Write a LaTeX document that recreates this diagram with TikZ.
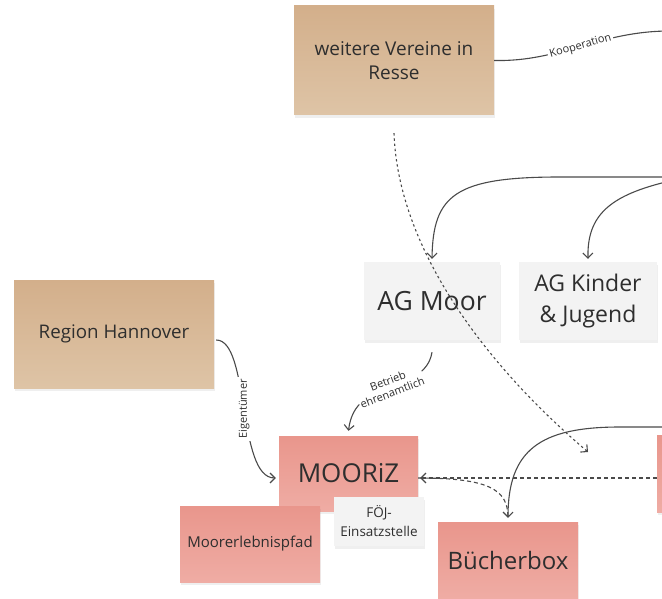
\documentclass[tikz,border=0pt]{standalone}
\usepackage{fontspec}
\setmainfont{Open Sans}
\usetikzlibrary{arrows.meta,shadows}
\definecolor{tantop}{HTML}{D3AF8B}
\definecolor{tanbot}{HTML}{DEC4A6}
\definecolor{pinktop}{HTML}{E9968C}
\definecolor{pinkbot}{HTML}{EFACA4}
\definecolor{greybox}{HTML}{F3F3F3}
\definecolor{linegrey}{HTML}{4A4A4A}
\definecolor{textgrey}{HTML}{2E2E2E}
\begin{document}
\begin{tikzpicture}[x=1pt,y=-1pt]
\tikzstyle{every node}+=[inner sep=0pt, text=textgrey, align=center]
\tikzstyle{boxshadow}=[drop shadow={opacity=0.12, shadow xshift=1pt, shadow yshift=-3pt}]
\tikzstyle{tanbox}=[rectangle, top color=tantop, bottom color=tanbot, boxshadow]
\tikzstyle{pinkbox}=[rectangle, top color=pinktop, bottom color=pinkbot, boxshadow]
\tikzstyle{greybox}=[rectangle, fill=greybox, boxshadow]
\tikzstyle{link}=[draw=linegrey, line width=1.1pt, -{Straight Barb[length=5pt,width=10pt]}]
\tikzstyle{plain}=[draw=linegrey, line width=1.1pt]
\tikzstyle{dotline}=[link, dash pattern=on 2.4pt off 2.8pt]
\tikzstyle{dashline}=[link, dash pattern=on 4pt off 3pt]
\tikzstyle{tag}=[fill=white, inner sep=2pt, font=\fontsize{11}{12.5}\selectfont]
\clip (0,0) rectangle (662,599);
\fill[white] (0,0) rectangle (662,599);
\node[tanbox, minimum width=200, minimum height=109, font=\fontsize{19}{24}\selectfont] (vereine) at (394,60.5) {weitere Vereine in\\Resse};
\node[tanbox, minimum width=200, minimum height=108, font=\fontsize{18.75}{22}\selectfont] (region) at (114,334) {Region Hannover};
\node[greybox, minimum width=136, minimum height=78, font=\fontsize{26.5}{30}\selectfont] (agmoor) at (432,301) {AG Moor};
\node[greybox, minimum width=138, minimum height=78, font=\fontsize{23}{31}\selectfont] (agkinder) at (588,301) {AG Kinder\\\& Jugend};
\node[pinkbox, minimum width=139, minimum height=75, font=\fontsize{26}{30}\selectfont] (mooriz) at (348.5,473.5) {MOORiZ};
\node[greybox, minimum width=90, minimum height=49, font=\fontsize{13.5}{19}\selectfont] (foej) at (379,521.5) {FÖJ-\\Einsatzstelle};
\node[pinkbox, minimum width=140, minimum height=76, font=\fontsize{15}{18}\selectfont] (pfad) at (250,544) {Moorerlebnispfad};
\node[pinkbox, minimum width=140, minimum height=76, font=\fontsize{24}{28}\selectfont] (buecher) at (508,560) {Bücherbox};
\node[pinkbox, minimum width=40, minimum height=77] (rechts) at (677,473.5) {};
\coordinate (koopR) at (670,31);
\coordinate (moorR) at (670,177);
\coordinate (kinderR) at (670,181);
\coordinate (boxR) at (670,427);
\coordinate (dotEnd) at (588,452);
\draw[plain] (vereine.east) .. controls (560,62) and (600,31) .. (koopR) node[tag, pos=0.5, sloped] {Kooperation};
\draw[link] (moorR) -- (560,177) .. controls (455,177) and (433,195) .. ([yshift=3pt]agmoor.north);
\draw[link] (kinderR) .. controls (610,195) and (587,215) .. ([yshift=3pt]agkinder.north);
\draw[link] ([yshift=-12pt]agmoor.south) .. controls (425,395) and (355,375) .. ([yshift=5pt]mooriz.north) node[tag, pos=0.5, sloped, inner sep=1pt] {Betrieb\\ehrenamtlich};
\draw[link] ([xshift=2pt,yshift=-6pt]region.east) .. controls (250,340) and (237,478) .. ([xshift=-3pt,yshift=-4.5pt]mooriz.west) node[tag, pos=0.5, rotate=90] {Eigentümer};
\draw[dashline, shorten >=2pt] ([yshift=-4.5pt]rechts.west) -- ([yshift=-4.5pt]mooriz.east);
\draw[dashline, -] ([yshift=-4.5pt]mooriz.east) .. controls (490,478) and (507,490) .. ([yshift=6pt]buecher.north);
\draw[link] (boxR) -- (620,427) .. controls (540,427) and (508,450) .. ([yshift=4pt]buecher.north);
\draw[dotline] ([yshift=-18pt]vereine.south) .. controls (398,245) and (480,360) .. (dotEnd);
\end{tikzpicture}
\end{document}
